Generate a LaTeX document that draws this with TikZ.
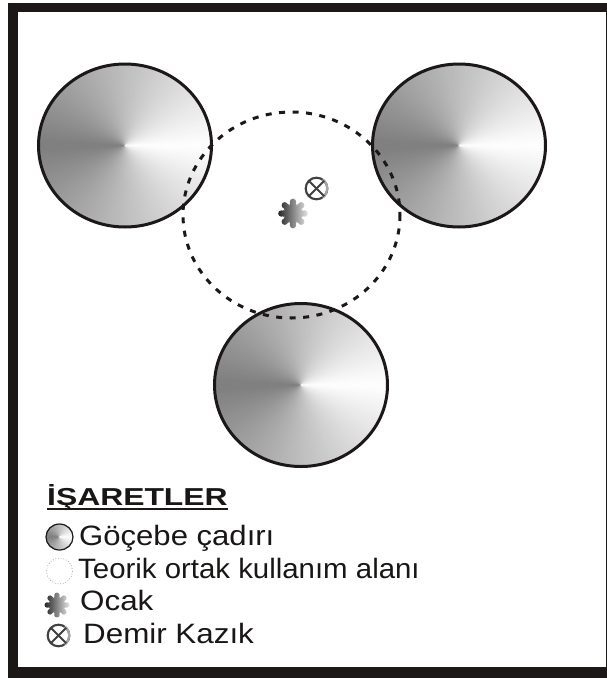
\documentclass[tikz,border=0pt]{standalone}
\usepackage{fontspec}
\usepackage{xcolor}
\setmainfont{Liberation Sans}
\definecolor{cerceve}{RGB}{28,24,24}
\definecolor{yazi}{RGB}{25,22,22}
% conical shaded tent: centre, x radius, y radius, outline width
\newcommand{\cadir}[4]{
  \begin{scope}[shift={(#1)},x=#2pt,y=#3pt]
    \fill[black!50] (0,0) circle (1);
    \foreach \a in {178,176,...,2} {
      \pgfmathsetmacro{\koyu}{0.28*\a}
      \fill[black!\koyu] (0,0) -- (-\a:1) arc (-\a:\a:1) -- cycle;
    }
    \draw[cerceve, line width=#4] (0,0) circle (1);
  \end{scope}
}
% hearth: eight lobes with a left to right shade
\newcommand{\ocak}[2]{
  \begin{scope}[shift={(#1)},scale=#2]
    \shade[left color=black!85, right color=black!10] (0,0) circle (9)
      \foreach \a in {0,45,...,315} { (\a:12.2) circle (3.4) (\a:9.5) circle (3.6) };
  \end{scope}
}
% iron stake: ring with a cross
\newcommand{\kazik}[2]{
  \begin{scope}[shift={(#1)},scale=#2]
    \draw[black!75, line width=2.1pt] (0,0) circle (10.3);
    \draw[black!35, line width=2.1pt] (-55:10.3) arc (-55:55:10.3);
    \draw[black!75, line width=2pt] (45:10.3) -- (225:10.3);
    \draw[black!75, line width=2pt] (135:10.3) -- (315:10.3);
  \end{scope}
}
\tikzset{
  aciklama/.style={anchor=base west, inner sep=0pt, text=yazi, font=\fontsize{28}{28}\selectfont},
  baslik/.style={anchor=base west, inner sep=0pt, text=yazi, font=\fontsize{24.5}{26}\selectfont\bfseries},
}
\begin{document}
\begin{tikzpicture}[x=1pt,y=-1pt]
  \useasboundingbox (0,0) rectangle (607,678);
  % frame
  \fill[cerceve] (8,3) rectangle (607,678);
  \fill[white] (18,12) rectangle (606,667);
  % tents
  \cadir{125,145.5}{86.5}{81.5}{3pt}
  \cadir{459,145.5}{86.5}{81.5}{3pt}
  \cadir{301,385}{86.5}{81.5}{3pt}
  % shared area
  \draw[cerceve, line width=3pt, dash pattern=on 6pt off 7.5pt] (291.5,215) ellipse (108.5 and 103);
  % centre
  \ocak{293,213.5}{0.95}
  \kazik{316.5,188.5}{1.05}
  % legend
  \node[baslik] (baslikyazi) at (47,505) {\scalebox{1.3}[1]{İŞARETLER}};
  \draw[cerceve, line width=2.5pt] ([yshift=-4pt]baslikyazi.base west) -- ([yshift=-4pt]baslikyazi.base east);
  \cadir{59.5,537}{13.5}{13}{1.2pt}
  \node[aciklama] (cadiryazi) at (79,545) {\scalebox{1.11}[1]{Göçebe çadırı}};
  \draw[black!40, line width=0.7pt, dotted] (59.5,571) circle (13);
  \node[aciklama] (alanyazi) at (78,578) {\scalebox{1.05}[1]{Teorik ortak kullanım alanı}};
  \ocak{57,605}{0.8}
  \node[aciklama] (ocakyazi) at (80,610) {\scalebox{1.12}[1]{Ocak}};
  \kazik{58.5,635.5}{1.05}
  \node[aciklama] (kazikyazi) at (83,643) {\scalebox{1.12}[1]{Demir Kazık}};
\end{tikzpicture}
\end{document}
